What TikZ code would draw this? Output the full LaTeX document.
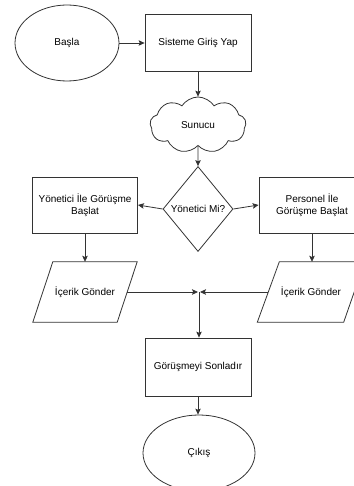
\documentclass[tikz,border=0pt]{standalone}
\usepackage{fontspec}
\setmainfont{Liberation Sans}
\usetikzlibrary{shapes.geometric,shapes.symbols,arrows.meta}
\definecolor{linegray}{HTML}{333333}
\tikzset{
  base/.style={draw=linegray, line width=0.8pt, font=\fontsize{10}{12}\selectfont, text=black, align=center, inner sep=2pt},
  terminal/.style={base, ellipse, minimum width=#1, minimum height=76pt},
  process/.style={base, rectangle, minimum width=106pt, minimum height=57pt},
  decision/.style={base, diamond, inner sep=0pt, minimum width=70pt, minimum height=85pt},
  server/.style={base, cloud, cloud puffs=9, cloud puff arc=115, aspect=1.7, minimum width=96pt, minimum height=56pt},
  iobox/.style={rectangle, font=\fontsize{10}{12}\selectfont, minimum width=104pt, minimum height=60pt, inner sep=0pt},
  slanted/.style={draw=linegray, line width=0.8pt},
  flow/.style={draw=linegray, line width=0.8pt, -{Stealth[length=6pt,width=5.5pt,inset=1.2pt]}},
  plain/.style={draw=linegray, line width=0.8pt}
}
\begin{document}
\begin{tikzpicture}[x=1pt, y=-1pt]
\useasboundingbox (0,0) rectangle (353,486);

% start, login, server
\node[terminal=104pt] (start) at (67,43) {Başla};
\node[process] (login) at (198,43) {Sisteme Giriş Yap};
\node[server] (srv) at (198,125) {Sunucu};

% decision and the two branches
\node[decision] (dec) at (198,209) {Yönetici Mi?};
\node[process, minimum height=56pt, minimum width=105pt] (mgr) at (85,205) {Yönetici İle Görüşme\\Başlat};
\node[process, minimum height=56pt] (staff) at (312,205) {Personel İle\\Görüşme Başlat};

% content input boxes (parallelograms)
\node[iobox] (inL) at (85,292) {İçerik Gönder};
\node[iobox, minimum width=107pt] (inR) at (311,292) {İçerik Gönder};
\draw[slanted] ([xshift=20pt]inL.north west) -- (inL.north east)
  -- ([xshift=-20pt]inL.south east) -- (inL.south west) -- cycle;
\draw[slanted] ([xshift=22pt]inR.north west) -- (inR.north east)
  -- ([xshift=-21pt]inR.south east) -- (inR.south west) -- cycle;
\coordinate (inLout) at ([xshift=-10pt]inL.east);
\coordinate (inRout) at ([xshift=11pt]inR.west);
\coordinate (join) at (199,292);

% end of the meeting and exit
\node[process, minimum height=58pt] (finish) at (198,367) {Görüşmeyi Sonladır};
\node[terminal=112pt] (exit) at (199,453) {Çıkış};

% connectors
\draw[flow] (start) -- (login);
\draw[flow] (login.south) -- (srv.north);
\draw[flow] (srv.south) -- (dec.north);
\draw[flow] (dec.west) -- (mgr.east);
\draw[flow] (dec.east) -- (staff.west);
\draw[flow] (mgr.south) -- (inL.north);
\draw[flow] (staff.south) -- (staff.south |- inR.north);
\draw[flow] (inLout) -- ([xshift=-1pt]join);
\draw[flow] (inRout) -- ([xshift=1pt]join);
\draw[flow] (join) -- (join |- finish.north);
\draw[flow] (finish.south) -- (finish.south |- exit.north);
\end{tikzpicture}
\end{document}
